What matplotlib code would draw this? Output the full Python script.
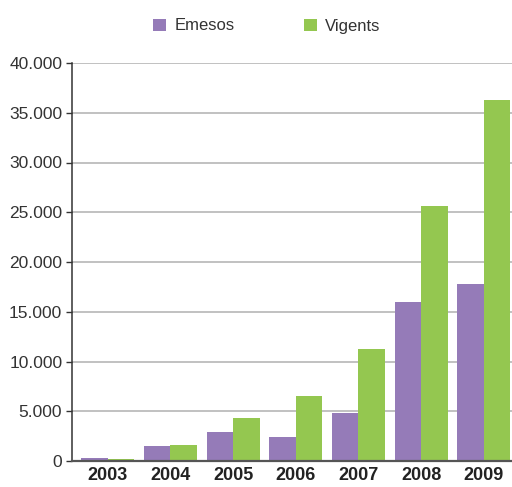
import matplotlib
matplotlib.use("Agg")
import matplotlib.pyplot as plt
import numpy as np
from matplotlib.ticker import FuncFormatter

years = ["2003", "2004", "2005", "2006", "2007", "2008", "2009"]
emesos = [300, 1540, 2910, 2410, 4820, 16000, 17800]
vigents = [170, 1640, 4320, 6530, 11260, 25600, 36300]

purple = "#957BB8"
green = "#94C750"

fig = plt.figure(figsize=(5.12, 4.87), dpi=100)
ax = fig.add_axes([72/512, 1-461/487, 1-72/512, (461-63)/487])

x = np.arange(len(years))
w = 0.423
b1 = ax.bar(x - w/2, emesos, width=w, color=purple, label="Emesos", zorder=3)
b2 = ax.bar(x + w/2, vigents, width=w, color=green, label="Vigents", zorder=3)

ax.set_ylim(0, 40000)
ax.set_xlim(-0.569, 6.448)
ax.set_yticks(np.arange(0, 40001, 5000))
ax.yaxis.set_major_formatter(FuncFormatter(lambda v, p: f"{int(v):,}".replace(",", ".")))
ax.yaxis.grid(True, color="#B0B0B0", linewidth=1.1, zorder=0)
ax.set_axisbelow(True)

for s in ["top", "right"]:
    ax.spines[s].set_visible(False)
ax.spines["left"].set_color("#333333")
ax.spines["left"].set_linewidth(1.1)
ax.spines["bottom"].set_color("#555555")
ax.spines["bottom"].set_linewidth(1.6)
ax.spines["bottom"].set_zorder(4)

ax.set_xticks(x)
ax.set_xticklabels(years, fontfamily="Liberation Sans", fontweight="bold", fontsize=13, color="#222222")
ax.tick_params(axis="x", length=0, pad=4)
ax.tick_params(axis="y", length=4, width=1, color="#333333", pad=3)
for t in ax.get_yticklabels():
    t.set_fontfamily("Liberation Sans")
    t.set_fontsize(12.5)
    t.set_color("#333333")

leg = fig.legend(handles=[b1, b2], labels=["Emesos", "Vigents"], loc="center",
                 bbox_to_anchor=(267/512, 1-26/487), ncol=2, frameon=False,
                 prop={"family": "Liberation Sans", "size": 12},
                 handlelength=0.75, handleheight=0.75, handletextpad=0.5,
                 columnspacing=4.2, borderpad=0)
for t in leg.get_texts():
    t.set_color("#333333")

fig.savefig("out.png", dpi=100)
